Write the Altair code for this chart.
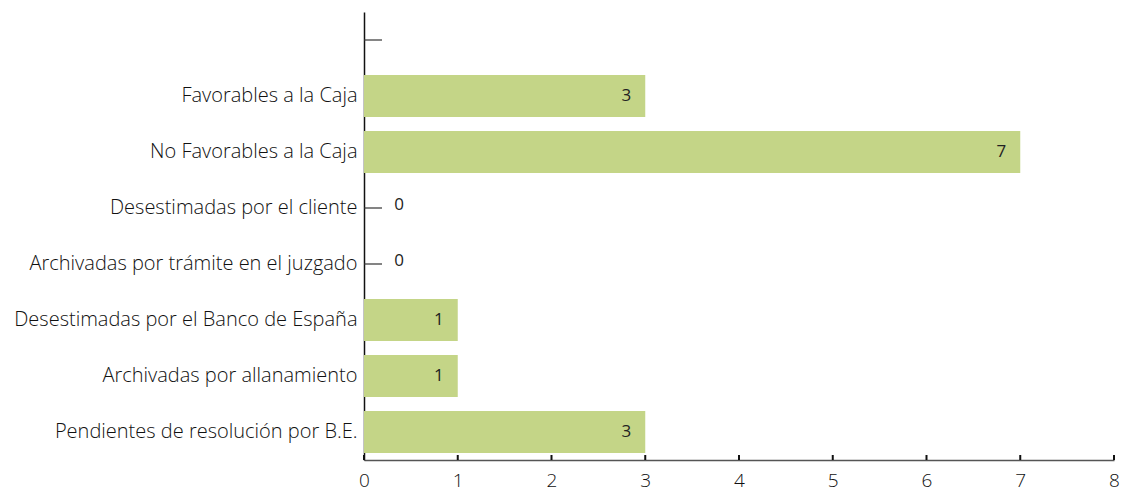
import altair as alt
import pandas as pd

categories = [" ", "Favorables a la Caja", "No Favorables a la Caja", "Desestimadas por el cliente",
              "Archivadas por trámite en el juzgado", "Desestimadas por el Banco de España",
              "Archivadas por allanamiento", "Pendientes de resolución por B.E."]
values = [None, 3, 7, 0, 0, 1, 1, 3]
x_ticks = [0, 1, 2, 3, 4, 5, 6, 7, 8]

df = pd.DataFrame({"cat": categories, "val": values})
dfv = df.dropna()
df_pos = dfv[dfv["val"] > 0]
df_zero = dfv[dfv["val"] == 0]
ticks_df = pd.DataFrame({"t": x_ticks})

FONT = "Open Sans"
xscale = alt.Scale(domain=[0, 8], nice=False, zero=True)
yscale = alt.Scale(domain=categories, paddingInner=0.25, paddingOuter=0.125)

ytick = alt.Chart(df).mark_rule(color="#333", strokeWidth=1.2).encode(
    y=alt.Y("cat:N", scale=yscale, sort=categories,
            axis=alt.Axis(title=None, ticks=False, labelPadding=7, labelFontSize=20,
                          labelFont=FONT, labelFontWeight=300, labelColor="#111",
                          domainColor="#111", domainWidth=1.5, labelLimit=400, grid=False)),
    x=alt.value(0), x2=alt.value(18),
)

bars = alt.Chart(dfv).mark_bar(color="#c4d587").encode(
    x=alt.X("val:Q", scale=xscale,
            axis=alt.Axis(title=None, values=x_ticks, ticks=False, grid=False, labelPadding=11,
                          labelFontSize=19, labelFont=FONT, labelFontWeight=300, labelFlush=False,
                          labelColor="#111", domainColor="#555", domainWidth=1.5, format="d")),
    y=alt.Y("cat:N", scale=yscale, sort=categories),
)

lab_pos = alt.Chart(df_pos).mark_text(dx=-19, fontSize=17, font=FONT, color="#222").encode(
    x=alt.X("val:Q", scale=xscale), y=alt.Y("cat:N", scale=yscale, sort=categories),
    text=alt.Text("val:Q", format="d"),
)
lab_zero = alt.Chart(df_zero).mark_text(dx=35, dy=-3, fontSize=17, font=FONT, color="#222").encode(
    x=alt.X("val:Q", scale=xscale), y=alt.Y("cat:N", scale=yscale, sort=categories),
    text=alt.Text("val:Q", format="d"),
)

xtick = alt.Chart(ticks_df).mark_rule(color="#111", strokeWidth=2).encode(
    x=alt.X("t:Q", scale=xscale), y=alt.value(448), y2=alt.value(443),
)

chart = alt.layer(ytick, bars, lab_pos, lab_zero, xtick).properties(
    width=750, height=448,
    autosize=alt.AutoSizeParams(type="none"),
    padding={"left": 364, "top": 12, "right": 9, "bottom": 35},
    view=alt.ViewBackground(stroke="transparent", strokeWidth=0),
).configure_view(strokeWidth=0, stroke="transparent").configure_axis(grid=False).configure(
    background="white")

chart.save("out.html", embed_options={"renderer": "svg", "actions": False})
